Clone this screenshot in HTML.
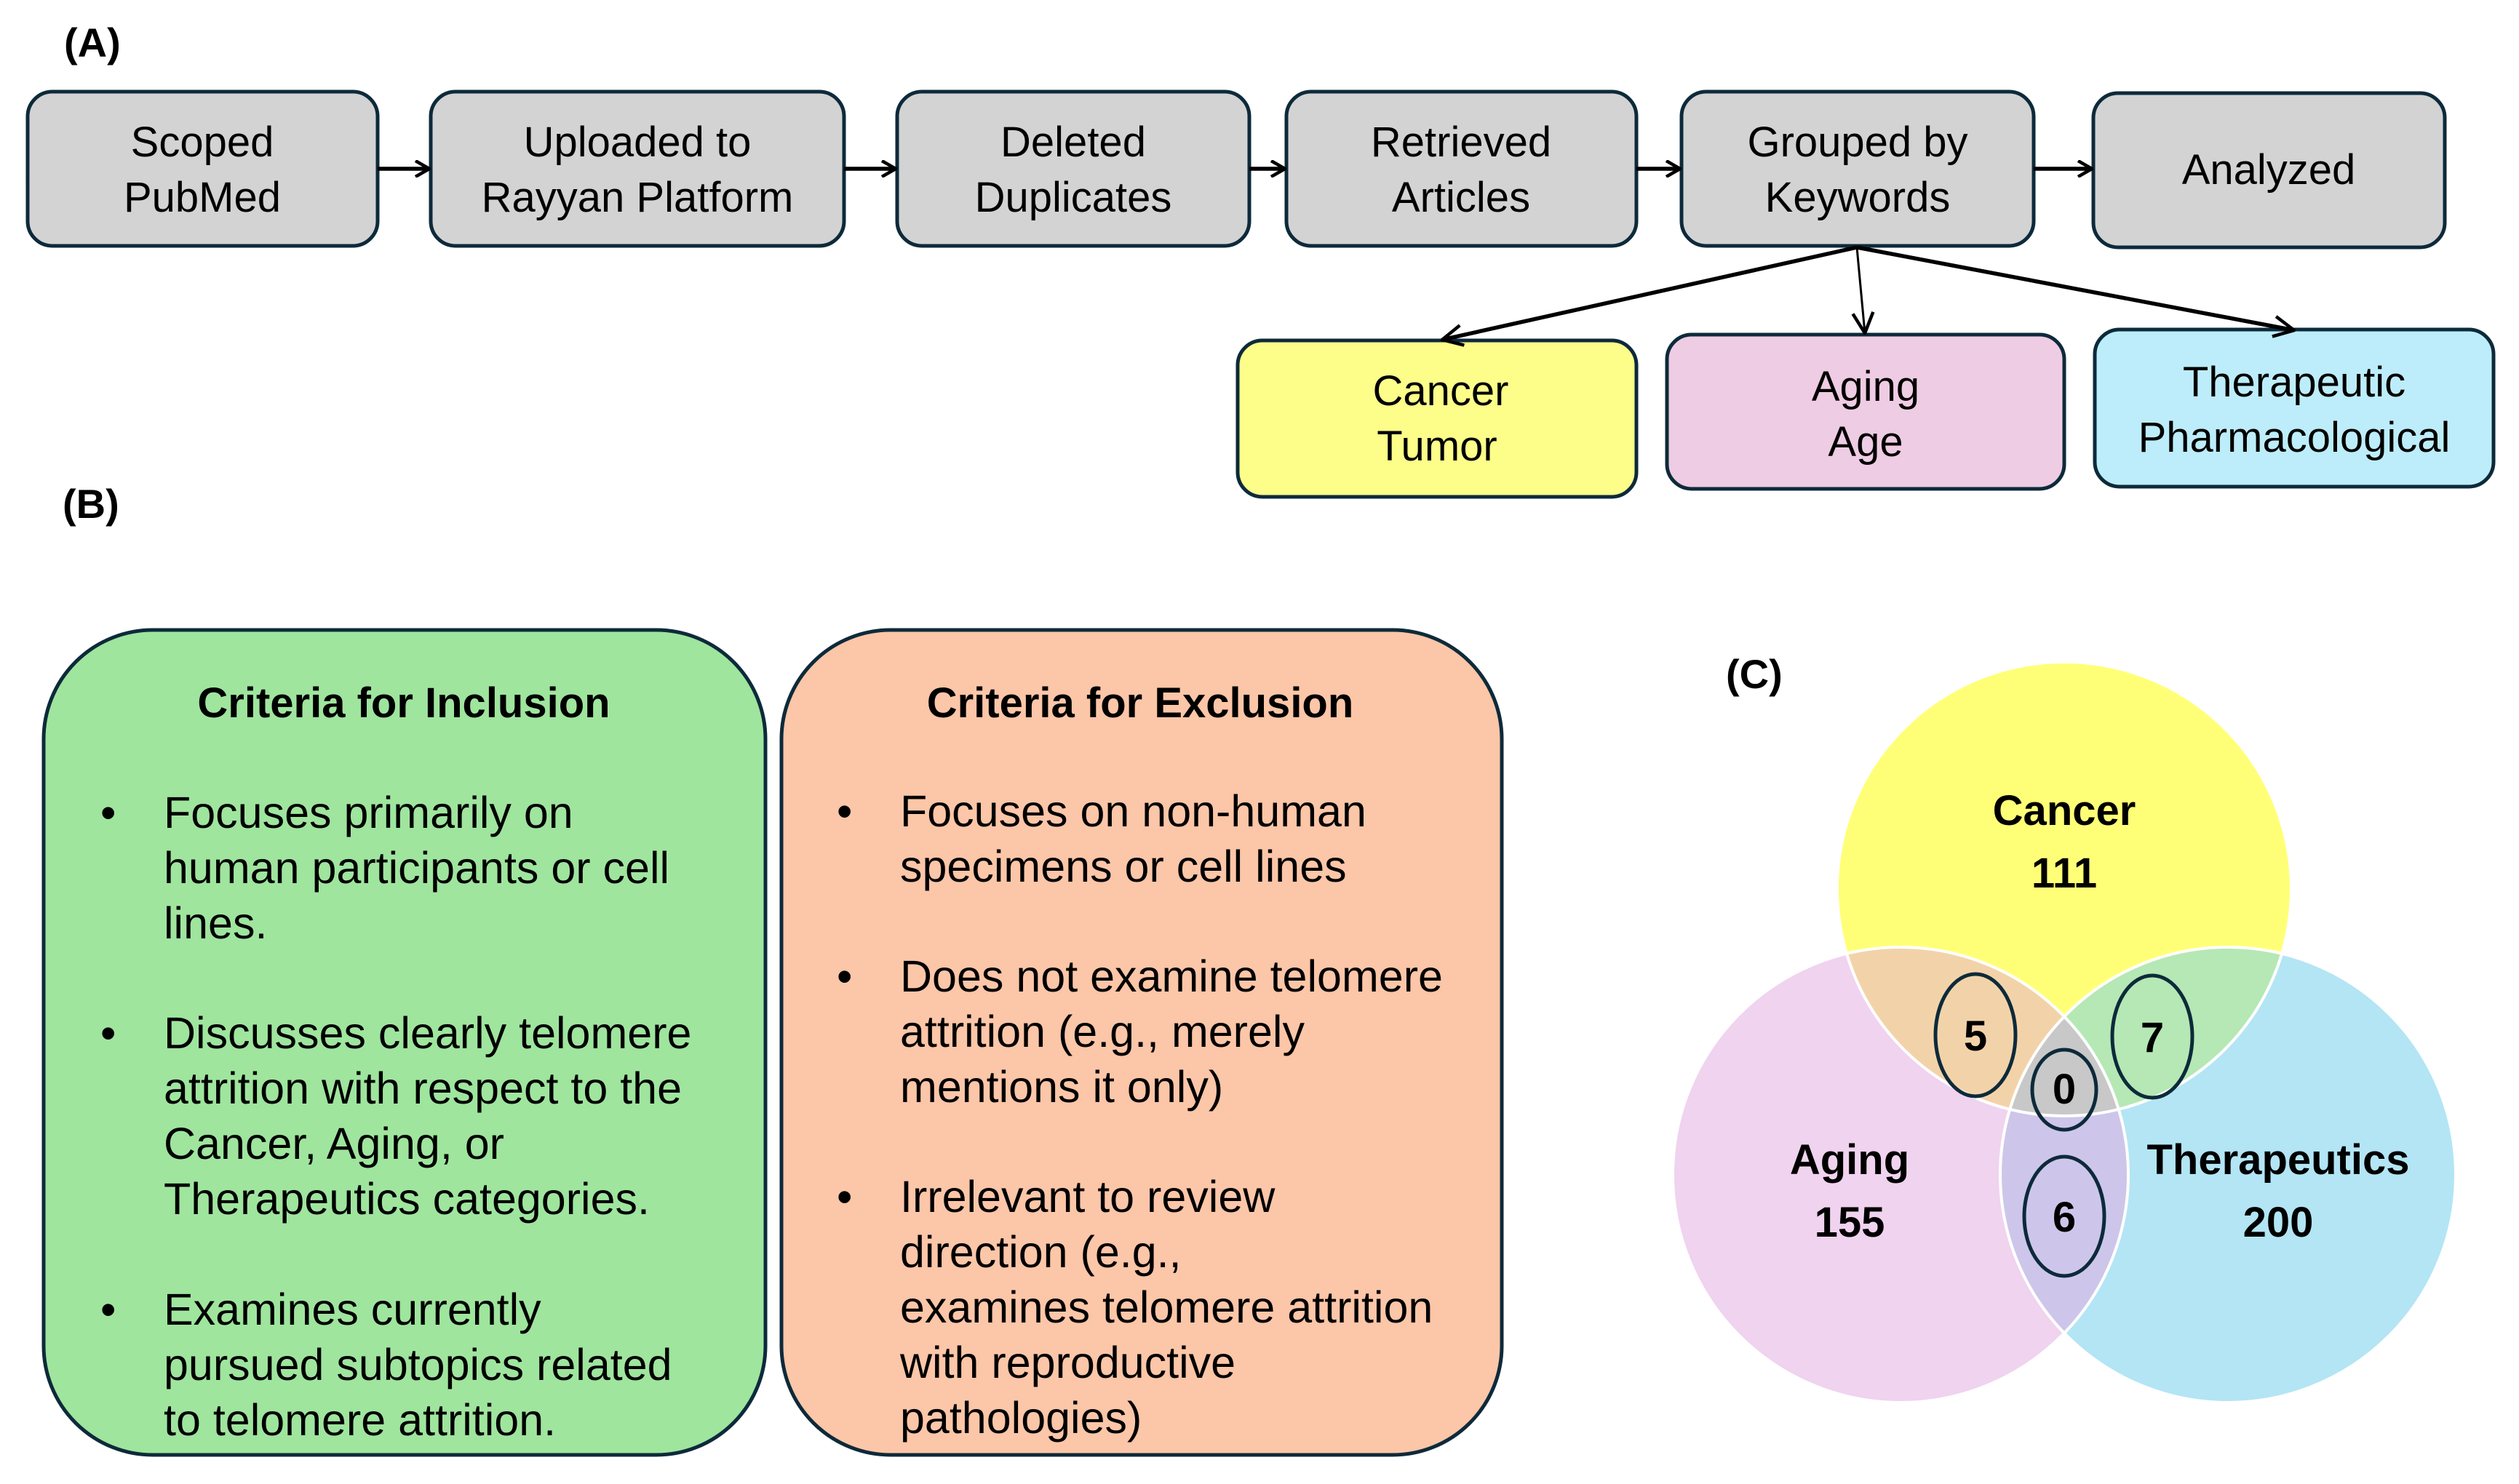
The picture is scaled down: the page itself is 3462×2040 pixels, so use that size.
<!DOCTYPE html>
<html><head><meta charset="utf-8"><style>
html,body{margin:0;padding:0;background:#fff;}
svg{display:block;}
text{font-family:"Liberation Sans",sans-serif;}
</style></head><body>
<svg width="3462" height="2040" viewBox="0 0 3462 2040" xmlns="http://www.w3.org/2000/svg">
<defs>
<marker id="ar" viewBox="0 0 24 24" refX="22" refY="12" markerWidth="24" markerHeight="24" markerUnits="userSpaceOnUse" orient="auto">
<path d="M3,1 L22,12 L3,23" fill="none" stroke="#000" stroke-width="4.5"/>
</marker>
<marker id="ar2" viewBox="0 0 34 34" refX="32" refY="17" markerWidth="34" markerHeight="34" markerUnits="userSpaceOnUse" orient="auto">
<path d="M4,3 L32,17 L4,31" fill="none" stroke="#000" stroke-width="4.5"/>
</marker>
<clipPath id="cC"><circle cx="2837" cy="1222" r="312"/></clipPath>
<clipPath id="cA"><circle cx="2612" cy="1615" r="313"/></clipPath>
<clipPath id="cT"><circle cx="3062" cy="1615" r="313"/></clipPath>
</defs>

<text x="88" y="78" font-size="56" font-weight="bold">(A)</text>
<text x="86" y="712" font-size="56" font-weight="bold">(B)</text>
<text x="2372" y="946" font-size="56" font-weight="bold">(C)</text>

<g stroke="#0d2a3a" stroke-width="5" fill="#d3d3d3">
<rect x="38" y="126" width="481" height="212" rx="34"/>
<rect x="592" y="126" width="568" height="212" rx="34"/>
<rect x="1233" y="126" width="484" height="212" rx="34"/>
<rect x="1768" y="126" width="481" height="212" rx="34"/>
<rect x="2311" y="126" width="484" height="212" rx="34"/>
<rect x="2877" y="128" width="483" height="212" rx="34"/>
<rect x="1701" y="468" width="548" height="215" rx="34" fill="#fdfd8a"/>
<rect x="2291" y="460" width="546" height="212" rx="34" fill="#eecce3"/>
<rect x="2879" y="453" width="548" height="216" rx="34" fill="#bdedfa"/>
</g>

<g font-size="58" text-anchor="middle" fill="#000">
<text x="278" y="215">Scoped</text><text x="278" y="291">PubMed</text>
<text x="876" y="215">Uploaded  to</text><text x="876" y="291">Rayyan  Platform</text>
<text x="1475" y="215">Deleted</text><text x="1475" y="291">Duplicates</text>
<text x="2008" y="215">Retrieved</text><text x="2008" y="291">Articles</text>
<text x="2553" y="215">Grouped  by</text><text x="2553" y="291">Keywords</text>
<text x="3118" y="253">Analyzed</text>
<text x="1980" y="557">Cancer</text><text x="1975" y="633">Tumor</text>
<text x="2564" y="551">Aging</text><text x="2564" y="627">Age</text>
<text x="3153" y="545">Therapeutic</text><text x="3153" y="621">Pharmacological</text>
</g>

<g stroke="#000" stroke-width="5.5" fill="none">
<line x1="519" y1="232" x2="590" y2="232" marker-end="url(#ar)"/>
<line x1="1160" y1="232" x2="1231" y2="232" marker-end="url(#ar)"/>
<line x1="1717" y1="232" x2="1766" y2="232" marker-end="url(#ar)"/>
<line x1="2249" y1="232" x2="2309" y2="232" marker-end="url(#ar)"/>
<line x1="2795" y1="232" x2="2875" y2="232" marker-end="url(#ar)"/>
<line x1="2552" y1="340" x2="1982" y2="467" marker-end="url(#ar2)"/>
<line x1="2552" y1="340" x2="2563" y2="458" stroke-width="3" marker-end="url(#ar2)"/>
<line x1="2552" y1="340" x2="3153" y2="454" marker-end="url(#ar2)"/>
</g>

<rect x="60" y="866" width="992" height="1134" rx="150" fill="#9fe59e" stroke="#0d2a3a" stroke-width="5"/>
<rect x="1074" y="866" width="990" height="1134" rx="150" fill="#fcc6a8" stroke="#0d2a3a" stroke-width="5"/>

<g font-size="61" fill="#000">
<text x="555" y="986" text-anchor="middle" font-weight="bold" font-size="58">Criteria for Inclusion</text>
<text x="1567" y="986" text-anchor="middle" font-weight="bold" font-size="58">Criteria for Exclusion</text>
<text x="138" y="1138">•</text>
<text x="225" y="1138">Focuses primarily on</text>
<text x="225" y="1214">human participants or cell</text>
<text x="225" y="1290">lines.</text>
<text x="138" y="1441">•</text>
<text x="225" y="1441">Discusses clearly telomere</text>
<text x="225" y="1517">attrition with respect to the</text>
<text x="225" y="1593">Cancer, Aging, or</text>
<text x="225" y="1669">Therapeutics categories.</text>
<text x="138" y="1821">•</text>
<text x="225" y="1821">Examines currently</text>
<text x="225" y="1897">pursued subtopics related</text>
<text x="225" y="1973">to telomere attrition.</text>

<text x="1150" y="1136">•</text>
<text x="1237" y="1136">Focuses on non-human</text>
<text x="1237" y="1212">specimens or cell lines</text>
<text x="1150" y="1363">•</text>
<text x="1237" y="1363">Does not examine telomere</text>
<text x="1237" y="1439">attrition (e.g., merely</text>
<text x="1237" y="1515">mentions it only)</text>
<text x="1150" y="1666">•</text>
<text x="1237" y="1666">Irrelevant to review</text>
<text x="1237" y="1742">direction (e.g.,</text>
<text x="1237" y="1818">examines telomere attrition</text>
<text x="1237" y="1894">with reproductive</text>
<text x="1237" y="1970">pathologies)</text>
</g>

<circle cx="2837" cy="1222" r="312" fill="#ffff77"/>
<circle cx="2612" cy="1615" r="313" fill="#f0d3ef"/>
<circle cx="3062" cy="1615" r="313" fill="#b3e5f5"/>
<g clip-path="url(#cC)"><circle cx="2612" cy="1615" r="313" fill="#f2d3a9"/><circle cx="3062" cy="1615" r="313" fill="#b5e8b5"/></g>
<g clip-path="url(#cA)"><circle cx="3062" cy="1615" r="313" fill="#cdc6ea"/></g>
<g clip-path="url(#cA)"><g clip-path="url(#cT)"><circle cx="2837" cy="1222" r="312" fill="#c8c8c8"/></g></g>
<g fill="none" stroke="#fff" stroke-width="4">
<circle cx="2837" cy="1222" r="312"/><circle cx="2612" cy="1615" r="313"/><circle cx="3062" cy="1615" r="313"/>
</g>
<g fill="none" stroke="#0d2a3a" stroke-width="5">
<ellipse cx="2715" cy="1423" rx="55" ry="84"/>
<ellipse cx="2958" cy="1425" rx="55" ry="84"/>
<ellipse cx="2837" cy="1498" rx="44" ry="55"/>
<ellipse cx="2837" cy="1672" rx="55" ry="82"/>
</g>
<g font-size="58" font-weight="bold" text-anchor="middle" fill="#000">
<text x="2837" y="1134">Cancer</text><text x="2837" y="1220">111</text>
<text x="2542" y="1614">Aging</text><text x="2542" y="1700">155</text>
<text x="3131" y="1614">Therapeutics</text><text x="3131" y="1700">200</text>
<text x="2715" y="1444">5</text>
<text x="2958" y="1446">7</text>
<text x="2837" y="1517">0</text>
<text x="2837" y="1693">6</text>
</g>
</svg>
</body></html>
